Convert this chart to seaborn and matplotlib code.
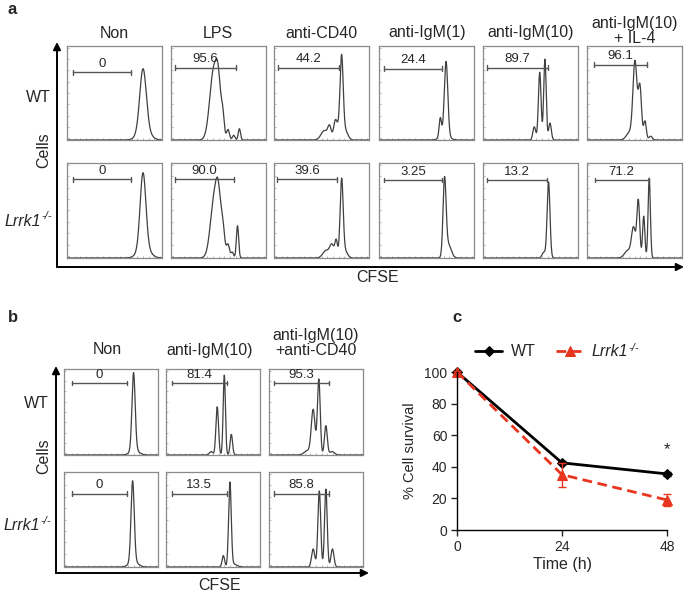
import numpy as np
import pandas as pd
import matplotlib
matplotlib.use("Agg")
import matplotlib.pyplot as plt
import seaborn as sns

sns.set_style("white")
plt.rcParams["font.family"] = ["Liberation Sans", "DejaVu Sans"]

# ---- panel a: CFSE histograms (peaks: centre, height, width in box units)
a_titles = ["Non", "LPS", "anti-CD40", "anti-IgM(1)", "anti-IgM(10)", "anti-IgM(10)\n+ IL-4"]
a_wt_values = ["0", "95.6", "44.2", "24.4", "89.7", "96.1"]
a_ko_values = ["0", "90.0", "39.6", "3.25", "13.2", "71.2"]
a_wt_gate_left = [0.068, 0.045, 0.045, 0.05, 0.04, 0.077]
a_wt_gate_right = [0.678, 0.68, 0.68, 0.66, 0.68, 0.63]
a_wt_gate_y = [0.72, 0.77, 0.77, 0.76, 0.77, 0.80]
a_ko_gate_left = [0.068, 0.045, 0.035, 0.05, 0.04, 0.08]
a_ko_gate_right = [0.678, 0.66, 0.66, 0.665, 0.67, 0.65]
a_ko_gate_y = [0.83, 0.83, 0.83, 0.82, 0.82, 0.82]
a_wt_peaks = [
    [(0.80, 0.64, 0.034), (0.81, 0.12, 0.060)],
    [(0.45, 0.74, 0.042), (0.50, 0.40, 0.025), (0.545, 0.22, 0.016), (0.60, 0.11, 0.015),
     (0.66, 0.05, 0.014), (0.72, 0.12, 0.012)],
    [(0.712, 0.76, 0.016), (0.70, 0.15, 0.035), (0.53, 0.10, 0.035), (0.585, 0.13, 0.018),
     (0.645, 0.17, 0.018), (0.76, 0.06, 0.025)],
    [(0.706, 0.78, 0.018), (0.645, 0.20, 0.012), (0.69, 0.06, 0.045)],
    [(0.54, 0.14, 0.015), (0.597, 0.72, 0.014), (0.652, 0.86, 0.013), (0.705, 0.18, 0.014)],
    [(0.45, 0.08, 0.035), (0.505, 0.82, 0.021), (0.557, 0.56, 0.017), (0.61, 0.20, 0.014),
     (0.67, 0.04, 0.018)],
]
a_ko_peaks = [
    [(0.80, 0.78, 0.030), (0.81, 0.12, 0.060)],
    [(0.46, 0.66, 0.042), (0.50, 0.36, 0.024), (0.545, 0.28, 0.020), (0.60, 0.14, 0.016),
     (0.645, 0.06, 0.013), (0.70, 0.34, 0.012)],
    [(0.712, 0.82, 0.016), (0.655, 0.18, 0.014), (0.61, 0.13, 0.022), (0.55, 0.08, 0.035),
     (0.75, 0.07, 0.025)],
    [(0.69, 0.80, 0.016), (0.73, 0.14, 0.030)],
    [(0.69, 0.80, 0.015), (0.64, 0.06, 0.018)],
    [(0.43, 0.08, 0.035), (0.49, 0.31, 0.021), (0.54, 0.60, 0.015), (0.597, 0.44, 0.012),
     (0.655, 0.84, 0.012)],
]

# ---- panel b
b_titles = ["Non", "anti-IgM(10)", "anti-IgM(10)\n+anti-CD40"]
b_wt_values = ["0", "81.4", "95.3"]
b_ko_values = ["0", "13.5", "85.8"]
b_gate_left = [0.08, 0.06, 0.055]
b_gate_right = [0.67, 0.645, 0.64]
b_wt_gate_y = [0.84, 0.84, 0.84]
b_ko_gate_y = [0.77, 0.77, 0.77]
b_wt_peaks = [
    [(0.74, 0.90, 0.017), (0.75, 0.06, 0.045)],
    [(0.48, 0.04, 0.018), (0.545, 0.56, 0.014), (0.62, 0.93, 0.012), (0.695, 0.24, 0.013)],
    [(0.41, 0.05, 0.035), (0.47, 0.52, 0.020), (0.53, 0.88, 0.015), (0.605, 0.34, 0.015),
     (0.67, 0.04, 0.025)],
]
b_ko_peaks = [
    [(0.73, 0.85, 0.017), (0.74, 0.06, 0.045)],
    [(0.61, 0.12, 0.013), (0.68, 0.88, 0.014), (0.72, 0.03, 0.035)],
    [(0.47, 0.19, 0.017), (0.535, 0.80, 0.015), (0.605, 0.82, 0.014), (0.675, 0.19, 0.016)],
]

# ---- panel c: cell survival
time_h = [0, 24, 48]
wt_survival = [100, 42.5, 35.5]
wt_err = [0.5, 1.0, 1.5]
ko_survival = [100, 35, 19]
ko_err = [0.5, 7.5, 3.5]

W, H = 685, 592
fig = plt.figure(figsize=(W / 100, H / 100), dpi=100)


def box_axes(x, y, w, h):
    return fig.add_axes([x / W, 1 - (y + h) / H, w / W, h / H])


def draw_hist(ax, peaks, gl, gr, gy, label):
    xs = np.linspace(0, 1, 500)
    ys = np.zeros_like(xs)
    for c, hgt, s in peaks:
        ys += hgt * np.exp(-0.5 * ((xs - c) / s) ** 2)
    sns.lineplot(x=xs, y=ys, ax=ax, color="#404040", lw=0.9)
    ax.plot([gl, gr], [gy, gy], color="#555555", lw=1.0)
    for gx in (gl, gr):
        ax.plot([gx, gx], [gy - 0.025, gy + 0.025], color="#555555", lw=1.0)
    ax.text((gl + gr) / 2, gy + 0.025, label, ha="center", va="bottom", fontsize=9.5)
    ax.set_xlim(0, 1)
    ax.set_ylim(0, 1.0)
    ax.set_xticks(np.linspace(0.02, 0.98, 17))
    ax.set_yticks(np.linspace(0.02, 0.98, 9))
    ax.tick_params(direction="in", length=1.5, width=0.5, color="#999999",
                   labelbottom=False, labelleft=False, bottom=True, left=True)
    for sp in ax.spines.values():
        sp.set_color("#8a8a8a")
        sp.set_linewidth(0.9)


# panel a boxes
a_lefts = [67, 171, 274, 379, 483, 587]
a_tops = [46, 163]
for i in range(6):
    ax = box_axes(a_lefts[i], a_tops[0], 95, 94)
    draw_hist(ax, a_wt_peaks[i], a_wt_gate_left[i], a_wt_gate_right[i], a_wt_gate_y[i], a_wt_values[i])
    ax = box_axes(a_lefts[i], a_tops[1], 95, 95)
    draw_hist(ax, a_ko_peaks[i], a_ko_gate_left[i], a_ko_gate_right[i], a_ko_gate_y[i], a_ko_values[i])

# panel b boxes
b_lefts = [64, 166, 269]
for i in range(3):
    ax = box_axes(b_lefts[i], 369, 94, 86)
    draw_hist(ax, b_wt_peaks[i], b_gate_left[i], b_gate_right[i], b_wt_gate_y[i], b_wt_values[i])
    ax = box_axes(b_lefts[i], 472, 94, 95)
    draw_hist(ax, b_ko_peaks[i], b_gate_left[i], b_gate_right[i], b_ko_gate_y[i], b_ko_values[i])

# panel c
axc = fig.add_axes([457 / W, 1 - 530 / H, (667 - 457) / W, (530 - 372) / H])
red = "#e8351f"
sns.lineplot(x=time_h, y=wt_survival, ax=axc, color="black", lw=2, marker="D", markersize=5,
             markeredgecolor="black", label="WT")
sns.lineplot(x=time_h, y=ko_survival, ax=axc, color=red, lw=2, marker="^", markersize=7,
             markeredgecolor=red, linestyle=(0, (3.5, 2)), label="Lrrk1")
axc.errorbar(time_h, wt_survival, yerr=wt_err, fmt="none", ecolor="black", capsize=3, lw=1)
axc.errorbar(time_h, ko_survival, yerr=ko_err, fmt="none", ecolor=red, capsize=3, lw=1)
axc.text(48, 46, "*", ha="center", va="bottom", fontsize=12)
axc.set_xlim(0, 48)
axc.set_ylim(0, 100)
axc.set_xticks([0, 24, 48])
axc.set_yticks([0, 20, 40, 60, 80, 100])
for sp in ("top", "right"):
    axc.spines[sp].set_visible(False)
for sp in ("left", "bottom"):
    axc.spines[sp].set_color("black")
    axc.spines[sp].set_linewidth(1)
axc.tick_params(direction="out", length=4, width=1, labelsize=10, left=True, bottom=True, pad=3)
axc.set_xlabel("Time (h)", fontsize=11.5, labelpad=2)
axc.set_ylabel("% Cell survival", fontsize=10.5, labelpad=5)
for ln in axc.lines:
    ln.set_clip_on(False)
leg = axc.legend(loc="lower center", bbox_to_anchor=(0.45, 1.04), ncol=2, frameon=False,
                 fontsize=11.5, handlelength=1.7, handletextpad=0.5, columnspacing=1.3,
                 borderaxespad=0)
ko_txt = leg.get_texts()[1]
ko_txt.set_fontstyle("italic")

# overlay for arrows and labels, in pixel coordinates
ov = fig.add_axes([0, 0, 1, 1], zorder=-1)
ov.set_xlim(0, W)
ov.set_ylim(H, 0)
ov.axis("off")
arrow = dict(arrowstyle="-|>", lw=1.4, color="black", mutation_scale=11, shrinkA=0, shrinkB=0)
ov.annotate("", xy=(684, 267), xytext=(57, 267), arrowprops=arrow)
ov.annotate("", xy=(57, 42), xytext=(57, 267), arrowprops=arrow)
ov.annotate("", xy=(369, 573), xytext=(56, 573), arrowprops=arrow)
ov.annotate("", xy=(56, 366), xytext=(56, 573), arrowprops=arrow)


def ko_row_label(x_right, y):
    ov.text(x_right, y, "Lrrk1", ha="right", va="center", fontsize=11.5, style="italic")
    ov.text(x_right + 0.5, y - 5, "-/-", ha="left", va="center", fontsize=8, style="italic")


ov.text(8, 10, "a", fontsize=12, fontweight="bold", va="center")
a_centres = [114, 218, 321, 427, 531, 635]
for cx, t in zip(a_centres, a_titles):
    cy = 31 if "\n" in t else 33
    ov.text(cx, cy, t, ha="center", va="center", fontsize=11.5, linespacing=1.0)
ov.text(38, 97, "WT", ha="center", va="center", fontsize=11.5)
ko_row_label(41, 221)
ov.text(44, 150, "Cells", ha="center", va="center", fontsize=11.5, rotation=90)
ov.text(378, 278, "CFSE", ha="center", va="center", fontsize=11.5)

ov.text(8, 318, "b", fontsize=12, fontweight="bold", va="center")
b_centres = [107, 210, 316]
for cx, t in zip(b_centres, b_titles):
    cy = 343 if "\n" in t else 350
    ov.text(cx, cy, t, ha="center", va="center", fontsize=11.5, linespacing=1.0)
ov.text(36, 403, "WT", ha="center", va="center", fontsize=11.5)
ko_row_label(40, 526)
ov.text(44, 456, "Cells", ha="center", va="center", fontsize=11.5, rotation=90)
ov.text(220, 585, "CFSE", ha="center", va="center", fontsize=11.5)

ov.text(452, 318, "c", fontsize=12, fontweight="bold", va="center")

# superscript after the italic legend entry
fig.canvas.draw()
bb = ko_txt.get_window_extent()
fig.text((bb.x1 + 1) / W, (bb.y1 - 4) / H, "-/-", fontsize=8, style="italic", va="center")

fig.savefig("out.png", dpi=100)
